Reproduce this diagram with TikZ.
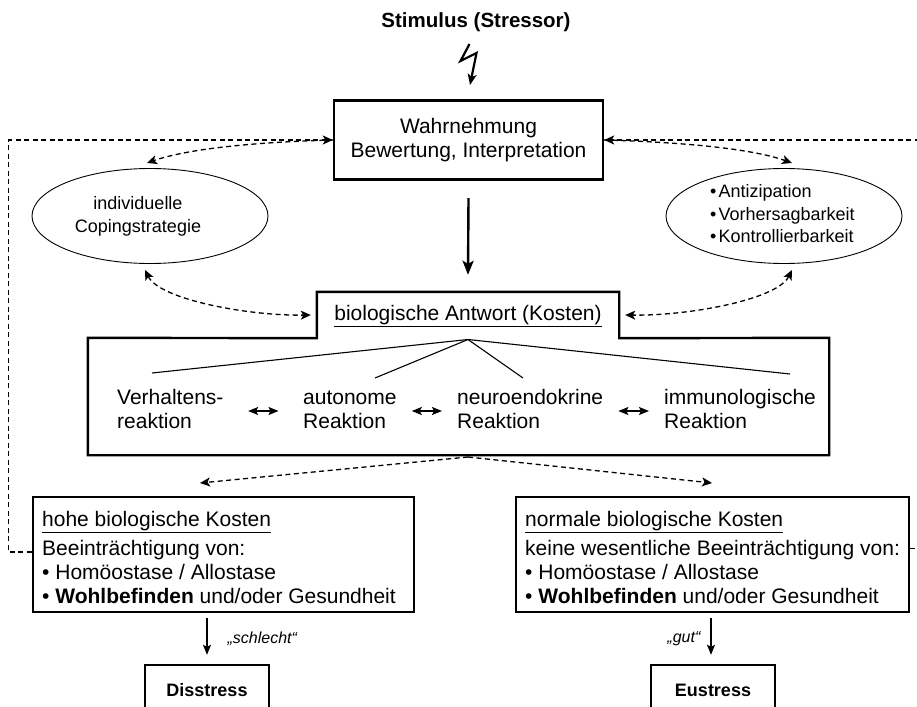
\documentclass[tikz,border=0pt]{standalone}
\usepackage{fontspec}
\setmainfont{Liberation Sans}
\usetikzlibrary{arrows.meta,shapes.geometric,calc}

\begin{document}
\begin{tikzpicture}[x=1pt,y=-1pt,
  txt/.style={font=\fontsize{21}{24}\selectfont, inner sep=0pt},
  small/.style={font=\fontsize{18}{22.5}\selectfont, inner sep=0pt},
  thickbox/.style={draw, line width=2.4pt, inner sep=0pt},
  oval/.style={draw, ellipse, line width=0.9pt, minimum width=236pt, minimum height=95pt, inner sep=0pt},
  dashline/.style={line width=1.3pt, dash pattern=on 5pt off 3.5pt},
  tipd/.tip={Stealth[length=10pt,width=9pt,inset=2.5pt]},
  tipb/.tip={Stealth[length=14pt,width=11pt,inset=3pt]},
  tips/.tip={Stealth[length=10pt,width=8pt,inset=2pt]},
  branch/.style={line width=1.1pt},
  lab/.style={font=\fontsize{16}{19}\selectfont\itshape, inner sep=0pt}
]
\useasboundingbox (0,0) rectangle (917,706);

% stimulus and lightning bolt
\node[txt, font=\bfseries\fontsize{20.5}{24}\selectfont] (stim) at (476,22) {Stimulus (Stressor)};
\coordinate (b1) at (469.5,44);
\coordinate (b2) at (460.5,61);
\coordinate (b3) at (476.5,53);
\coordinate (b4) at (470,85);
\draw[line width=2.2pt, line join=miter, -{tipb[length=11pt,width=9pt]}] (b1) -- (b2) -- (b3) -- (b4);

% perception box
\node[thickbox, txt, align=center, minimum width=269pt, minimum height=79pt] (wahr) at (468.5,140)
  {Wahrnehmung\\Bewertung, Interpretation};

% ellipses
\node[oval] (cope) at (150,216) {};
\node[small, align=center] (copetext) at (138,216.5) {individuelle\\Copingstrategie};
\node[oval] (antic) at (784,216) {};
\node[small, align=left, anchor=west] (antictext) at (710,214)
  {•\kern2pt Antizipation\\•\kern2pt Vorhersagbarkeit\\•\kern2pt Kontrollierbarkeit};

% main arrow
\node[minimum width=302pt, minimum height=46pt, inner sep=0pt] (tab) at (468,315) {};
\node[minimum width=741pt, minimum height=117pt, inner sep=0pt] (resp) at (458.5,396.5) {};
\draw[line width=2.4pt, -{tipb}] ([yshift=-17.5pt]wahr.south) -- ([yshift=17pt]tab.north);

% biological response outline
\draw[line width=2.4pt, line join=miter]
  (tab.south west) -- (tab.north west) -- (tab.north east) -- (tab.south east)
  -- (resp.north east) -- (resp.south east) -- (resp.south west) -- (resp.north west) -- cycle;
\node[txt] (biotext) at (468,316) {\underline{biologische Antwort (Kosten)}};

% curved dashed links
\draw[dashline, -{tipd}] (wahr.west) .. controls (260,142) and (190,148) .. (147,163);
\draw[dashline, -{tipd}] (wahr.east) .. controls (677,142) and (750,148) .. (792,163);
\draw[dashline, {tipd}-{tipd}] (145,270) .. controls (160,300) and (250,316) .. ([xshift=-6pt]tab.west);
\draw[dashline, {tipd}-{tipd}] (792,270) .. controls (777,300) and (687,316) .. ([xshift=6pt]tab.east);

% reactions
\coordinate (apex) at (468,339.5);
\node[txt, align=left, anchor=west] (verh) at (117,412) {\strut Verhaltens-\\\strut reaktion};
\node[txt, align=left, anchor=west] (auto) at (303,412) {\strut autonome\\\strut Reaktion};
\node[txt, align=left, anchor=west] (neuro) at (457,412) {\strut neuroendokrine\\\strut Reaktion};
\node[txt, align=left, anchor=west] (immu) at (664,412) {\strut immunologische\\\strut Reaktion};
\coordinate (e1) at (152,373);
\coordinate (e2) at (375,378);
\coordinate (e3) at (523,378);
\coordinate (e4) at (790,374);
\draw[branch] (apex) -- (e1);
\draw[branch] (apex) -- (e2);
\draw[branch] (apex) -- (e3);
\draw[branch] (apex) -- (e4);
\draw[line width=1.5pt, {tips}-{tips}, shorten <=24.5pt, shorten >=24.5pt] ([yshift=1pt]verh.east) -- ([yshift=1pt]verh.east -| auto.west);
\draw[line width=1.5pt, {tips}-{tips}, shorten <=15pt, shorten >=15pt] ([yshift=1pt]auto.east) -- ([yshift=1pt]auto.east -| neuro.west);
\draw[line width=1.5pt, {tips}-{tips}, shorten <=15pt, shorten >=15pt] ([yshift=1pt]neuro.east) -- ([yshift=1pt]neuro.east -| immu.west);

% outcome boxes
\node[thickbox, minimum width=381pt, minimum height=115pt] (high) at (223.5,554.5) {};
\node[txt, align=left, anchor=west] (hightext) at (42,557)
  {\underline{hohe biologische Kosten}\\[5pt]
   Beeinträchtigung von:\\
   • Homöostase / Allostase\\
   • \textbf{Wohlbefinden} und/oder Gesundheit};
\node[thickbox, minimum width=393pt, minimum height=115pt] (normal) at (712.5,554.5) {};
\node[txt, align=left, anchor=west] (normaltext) at (525,557)
  {\underline{normale biologische Kosten}\\[5pt]
   keine wesentliche Beeinträchtigung von:\\
   • Homöostase / Allostase\\
   • \textbf{Wohlbefinden} und/oder Gesundheit};

\coordinate (split) at (468,457);
\coordinate (tohigh) at (200,483);
\coordinate (tonormal) at (712,483);
\draw[dashline, -{tipd}] (split) -- (tohigh);
\draw[dashline, -{tipd}] (split) -- (tonormal);

% feedback loops
\draw[dashline, -{tipd}] ([yshift=2.5pt]high.west) -- ++(-23,0) |- (wahr.west);
\draw[dashline, -{tipd}] ([yshift=6pt]normal.east) -- ++(30,0) |- (wahr.east);

% final states
\node[thickbox, minimum width=124pt, minimum height=50pt, font=\bfseries\fontsize{18}{22}\selectfont] (dis) at (207,690) {Disstress};
\node[thickbox, minimum width=124pt, minimum height=50pt, font=\bfseries\fontsize{18}{22}\selectfont] (eu) at (713,690) {Eustress};
\draw[line width=1.3pt, -{tips}, shorten <=5pt, shorten >=9pt] (dis.north |- high.south) -- (dis.north)
  node[lab, midway, right=20pt] {„schlecht“};
\draw[line width=1.3pt, -{tips}, shorten <=5pt, shorten >=9pt] ([xshift=-2pt]eu.north |- normal.south) -- ([xshift=-2pt]eu.north)
  node[lab, midway, left=10pt] {„gut“};
\end{tikzpicture}
\end{document}
